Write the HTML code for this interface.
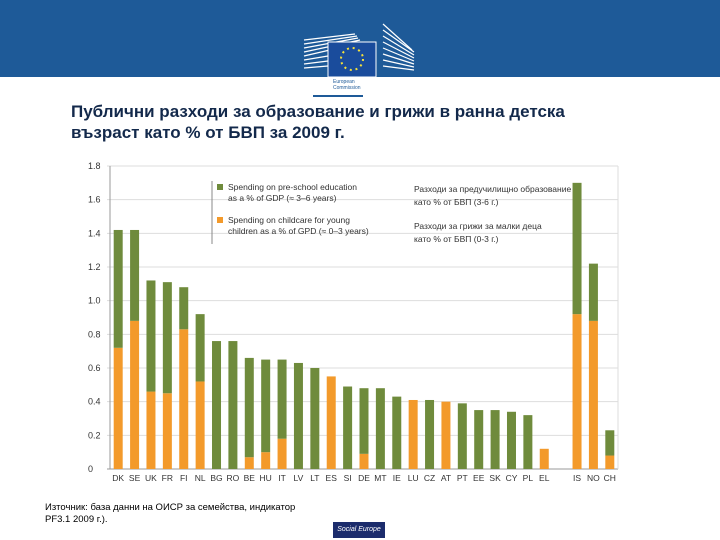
<!DOCTYPE html>
<html><head><meta charset="utf-8">
<style>
html,body{margin:0;padding:0;background:#fff;}
#root{position:relative;width:720px;height:540px;overflow:hidden;font-family:"Liberation Sans","Noto Sans CJK SC",sans-serif;}
.hdr{position:absolute;left:0;top:0;width:720px;height:77px;background:#1e5a98;}
.title{position:absolute;left:71px;top:101px;font-size:17px;font-weight:bold;color:#13294b;line-height:21px;}
.src{position:absolute;left:45px;top:502px;font-size:9.5px;color:#000;line-height:12px;}
.soc{position:absolute;left:333px;top:522px;width:52px;height:16px;background:#1c2c6c;color:#fff;font-size:7px;font-style:italic;text-align:center;line-height:16px;}
</style></head>
<body>
<div id="root">
<div class="hdr">
<svg width="720" height="77">
<g stroke="#fff" stroke-width="1.2">
<line x1="304" y1="40" x2="355" y2="34"/><line x1="304" y1="44" x2="357" y2="36"/><line x1="304" y1="48" x2="358" y2="38"/><line x1="304" y1="52" x2="360" y2="40"/><line x1="304" y1="56" x2="360" y2="43"/><line x1="304" y1="60" x2="328" y2="56"/><line x1="304" y1="64" x2="328" y2="61"/><line x1="304" y1="68" x2="328" y2="66"/>
<line x1="383" y1="24" x2="412" y2="50"/><line x1="383" y1="30" x2="414" y2="52"/><line x1="383" y1="36" x2="414" y2="55"/><line x1="383" y1="42" x2="414" y2="58"/><line x1="383" y1="48" x2="414" y2="61"/><line x1="383" y1="54" x2="414" y2="64"/><line x1="383" y1="60" x2="414" y2="67"/><line x1="383" y1="66" x2="414" y2="70"/>
</g>
<rect x="328" y="42" width="48" height="35" fill="#1a4c9c" stroke="#fff" stroke-width="1"/>
<circle cx="352" cy="59" r="11" fill="none" stroke="#f5e13a" stroke-width="2" stroke-dasharray="2 3.8"/>
</svg>
</div>
<div style="position:absolute;left:333px;top:79px;font-size:5px;color:#1e5a98;line-height:6px">European<br>Commission</div>
<div style="position:absolute;left:313px;top:95px;width:50px;height:2px;background:#1e5a98"></div>
<div class="title">Публични разходи за образование и грижи в ранна детска<br>възраст като % от БВП за 2009 г.</div>
<svg id="chart" width="720" height="540" style="position:absolute;left:0;top:0"></svg>
<div class="src">Източник: база данни на ОИСР за семейства, индикатор<br>PF3.1 2009 г.).</div>
<div class="soc">Social Europe</div>
</div>
<script>
const categories=["DK","SE","UK","FR","FI","NL","BG","RO","BE","HU","IT","LV","LT","ES","SI","DE","MT","IE","LU","CZ","AT","PT","EE","SK","CY","PL","EL","","IS","NO","CH"];
const childcare=[0.72,0.88,0.46,0.45,0.83,0.52,0,0,0.07,0.10,0.18,0,0,0.55,0,0.09,0,0,0.41,0,0.40,0,0,0,0,0,0.12,0,0.92,0.88,0.08];
const preschool=[0.70,0.54,0.66,0.66,0.25,0.40,0.76,0.76,0.59,0.55,0.47,0.63,0.60,0,0.49,0.39,0.48,0.43,0,0.41,0,0.39,0.35,0.35,0.34,0.32,0,0,0.78,0.34,0.15];
const yTicks=[0,0.2,0.4,0.6,0.8,1.0,1.2,1.4,1.6,1.8];
const yTickLabels=["0","0.2","0.4","0.6","0.8","1.0","1.2","1.4","1.6","1.8"];
const NS="http://www.w3.org/2000/svg";
const svg=document.getElementById("chart");
const X0=110,X1=618,Y0=469,Ytop=166;
const step=(X1-X0)/categories.length;
function y(v){return Y0-(v/1.8)*(Y0-Ytop);}
function xc(i){return X0+step*(i+0.5);}
function mk(t,a){const e=document.createElementNS(NS,t);for(const k in a)e.setAttribute(k,a[k]);svg.appendChild(e);return e;}
yTicks.forEach((t,i)=>{
 const g=mk("line",{x1:X0-3,x2:X1,y1:y(t),y2:y(t),stroke:i===0?"#999":"#ddd","stroke-width":1});
 
 
 const l=mk("text",{x:88,y:y(t)+3,"font-size":"9","fill":"#333"});
 l.textContent=yTickLabels[i];
 
 
});
const ax=mk("line",{x1:X0,x2:X0,y1:Ytop,y2:Y0,stroke:"#999"});


mk("line",{x1:X1,x2:X1,y1:Ytop,y2:Y0,stroke:"#ddd"});
const bw=9;
categories.forEach((c,i)=>{
 const cx=xc(i);
 if(childcare[i]>0){
  const r=mk("rect",{x:cx-bw/2,y:y(childcare[i]),width:bw,height:Y0-y(childcare[i]),fill:"#f39a2b"});
  
  
 }
 if(preschool[i]>0){
  const tot=childcare[i]+preschool[i];
  const r=mk("rect",{x:cx-bw/2,y:y(tot),width:bw,height:y(childcare[i])-y(tot),fill:"#6f8b3c"});
  
  
 }
 const t=mk("text",{x:cx,y:Y0+12,"font-size":"8.5","fill":"#333","text-anchor":"middle"});
 t.textContent=c;
 
 
});
// legend
const lg=[["#6f8b3c","Spending on pre-school education","as a % of GDP (≈ 3–6 years)",189],["#f39a2b","Spending on childcare for young","children as a % of GPD  (≈ 0–3 years)",222]];
mk("line",{x1:212,x2:212,y1:181,y2:244,stroke:"#888"});
lg.forEach(d=>{
 const s=mk("rect",{x:217,y:d[3]-5,width:6,height:6,fill:d[0]});
 
 
 const a=mk("text",{x:228,y:d[3]+1,"font-size":"8.5","fill":"#333"});a.textContent=d[1];
 
 
 const b=mk("text",{x:228,y:d[3]+12,"font-size":"8.5","fill":"#333"});b.textContent=d[2];
 
 
});
[["Разходи за предучилищно образование",192],["като % от БВП (3-6 г.)",205],["Разходи за грижи за малки деца",229],["като % от БВП (0-3 г.)",242]].forEach(d=>{
 const t=mk("text",{x:414,y:d[1],"font-size":"8.5","fill":"#333"});t.textContent=d[0];
 
 
});
</script>
</body></html>
